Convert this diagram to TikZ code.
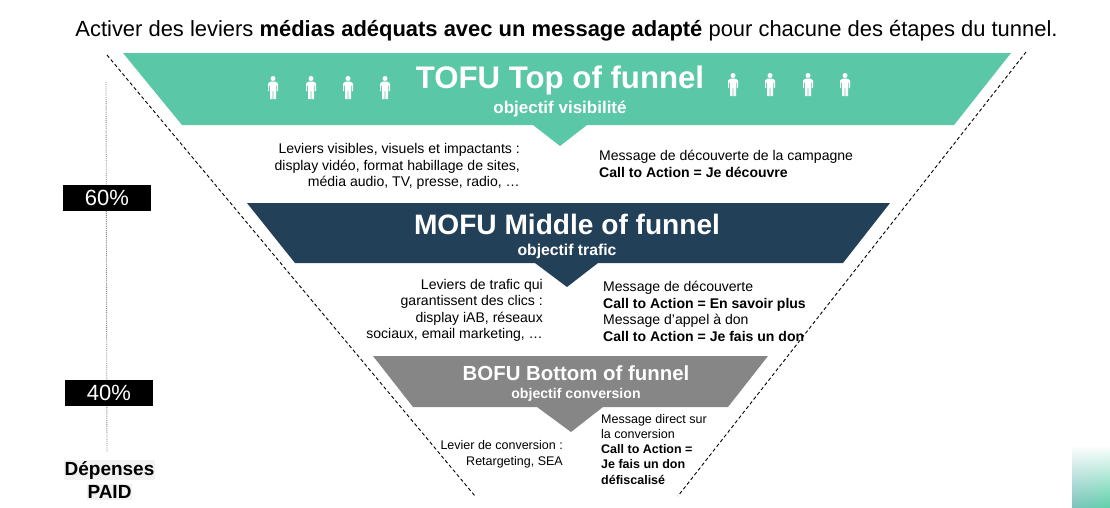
\documentclass[tikz,border=0pt]{standalone}
\usepackage{fontspec}
\setmainfont{Liberation Sans}
\usepackage{xcolor}
\usetikzlibrary{positioning, shadings}
\definecolor{tofu}{RGB}{90, 199, 166}
\definecolor{mofu}{RGB}{35, 64, 89}
\definecolor{bofu}{RGB}{134, 134, 134}
\definecolor{paid}{RGB}{242, 242, 242}
\definecolor{cornerl}{RGB}{125, 195, 190}
\definecolor{cornerr}{RGB}{95, 210, 170}
\newcommand{\fsize}[2]{\fontsize{#1}{#2}\selectfont}

\begin{document}
\begin{tikzpicture}[
        x=1pt, y=-1pt,
        node distance = 0pt and 0pt,
        band/.style = {text=white, font=\bfseries\fsize{31.2}{33}, inner sep=0pt},
        bandsub/.style = {text=white, font=\bfseries\fsize{14.1}{16}, inner sep=0pt},
        leviers/.style = {align=right, anchor=north east, inner sep=0pt, font=\fsize{14.05}{16.5}},
        message/.style = {align=left, anchor=north west, inner sep=0pt, font=\fsize{14.05}{16.5}},
        share/.style = {fill=black, text=white, minimum width=88pt, minimum height=26pt, inner sep=0pt, font=\fsize{22}{24}},
        spend/.style = {fill=paid, inner sep=1pt, font=\bfseries\fsize{19}{21}},
        funnel/.style = {dash pattern=on 3.5pt off 2.5pt, line width=0.9pt},
        person/.pic = {
            \fill[white] (0,-8.5) circle (2.5);
            \fill[white] (-2.5,-5.5) -- (2.5,-5.5) -- (5,-3.5) -- (5,4) -- (3.8,4) -- (3.8,-1.5) -- (3,-1.5) -- (3,12) -- (0.4,12) -- (0.4,4) -- (-0.4,4) -- (-0.4,12) -- (-3,12) -- (-3,-1.5) -- (-3.8,-1.5) -- (-3.8,4) -- (-5,4) -- (-5,-3.5) -- cycle;
        },
    ]
    \useasboundingbox (0,0) rectangle (1110,507);

    % corner
    \shade[upper left=white, upper right=white, lower left=cornerl, lower right=cornerr]
        (1072,445) rectangle (1110,507);

    \node[inner sep=0pt, font=\fsize{21.95}{24}] (title) at (566.5,31) {Activer des leviers \textbf{médias adéquats avec un message adapté} pour chacune des étapes du tunnel.};

    % funnel bands
    \fill[tofu] (123,53) -- (1011,53) -- (954,125) -- (587,125) -- (560,146) -- (533,125) -- (182,125) -- cycle;
    \fill[mofu] (247,203) -- (890,203) -- (843,263) -- (598,263) -- (567,287) -- (535,263) -- (295,263) -- cycle;
    \fill[bofu] (373,356) -- (768,356) -- (728,407) -- (603,407) -- (571,432) -- (537,407) -- (413,407) -- cycle;

    % funnel outline
    \coordinate (lefttop) at (107,55);
    \coordinate (leftend) at (475,496);
    \coordinate (righttop) at (1026,52);
    \coordinate (rightend) at (678,496);
    \draw[funnel] (lefttop) -- (leftend);
    \draw[funnel] (righttop) -- (rightend);

    \foreach \xpos in {273,311,348,385} \pic at (\xpos,87) {person};
    \foreach \xpos in {733,770,808,845} \pic at (\xpos,84) {person};

    \node[band] (tofutxt) at (560,80) {TOFU Top of funnel};
    \node[bandsub, font=\bfseries\fsize{17}{19}, below=6pt of tofutxt] (tofusub) {objectif visibilité};
    \node[band, font=\bfseries\fsize{28.1}{30}] (mofutxt) at (567,224.5) {MOFU Middle of funnel};
    \node[bandsub, font=\bfseries\fsize{15.75}{18}, below=9pt of mofutxt] (mofusub) {objectif trafic};
    \node[band, font=\bfseries\fsize{20.4}{22}] (bofutxt) at (576,373) {BOFU Bottom of funnel};
    \node[bandsub, below=7pt of bofutxt] (bofusub) {objectif conversion};

    \node[leviers] (levtofu) at (520,143.5) {Leviers visibles, visuels et impactants :\\display vidéo, format habillage de sites,\\média audio, TV, presse, radio, …};
    \node[message] (msgtofu) at (599,150) {Message de découverte de la campagne\\\textbf{Call to Action = Je découvre}};
    \node[leviers] (levmofu) at (543,279) {Leviers de trafic qui\\garantissent des clics :\\display iAB, réseaux\\sociaux, email marketing, …};
    \node[message] (msgmofu) at (603,281) {Message de découverte\\\textbf{Call to Action = En savoir plus}\\Message d’appel à don\\\textbf{Call to Action = Je fais un don}};
    \node[leviers, font=\fsize{12.5}{16}] (levbofu) at (563,440.5) {Levier de conversion :\\Retargeting, SEA};
    \node[message, font=\fsize{12.5}{15.2}] (msgbofu) at (601,414) {Message direct sur\\la conversion\\\textbf{Call to Action =}\\\textbf{Je fais un don}\\\textbf{défiscalisé}};

    % paid share
    \coordinate (dottop) at (106,82);
    \coordinate (dotend) at (107,452);
    \draw[gray, densely dotted, line width=0.9pt] (dottop) -- (dotend);
    \node[share] (sixty) at (107,198) {60\%};
    \node[share] (forty) at (109,393) {40\%};
    \node[spend] (depenses) at (109.5,470) {Dépenses};
    \node[spend] (paidtxt) at (109.5,492) {PAID};
\end{tikzpicture}
\end{document}
